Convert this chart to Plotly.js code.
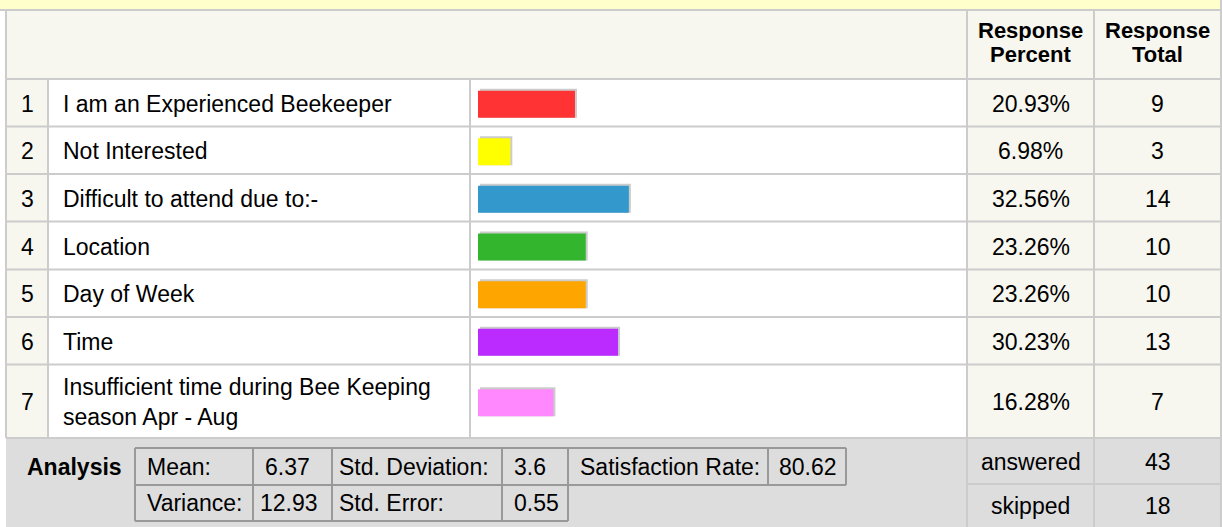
<!DOCTYPE html>
<html>
<head>
<meta charset="utf-8">
<script src="https://cdn.plot.ly/plotly-3.0.1.min.js"></script>
<style>html,body{margin:0;padding:0;background:#fff;}#chart{width:1222px;height:527px;}</style>
</head>
<body>
<div id="chart"></div>
<script>
// ---- data ----
const rowNumbers = ['1', '2', '3', '4', '5', '6', '7'];
const answerLabels = [
  'I am an Experienced Beekeeper',
  'Not Interested',
  'Difficult to attend due to:-',
  'Location',
  'Day of Week',
  'Time',
  'Insufficient time during Bee Keeping<br>season Apr - Aug'
];
const responsePercent = [20.93, 6.98, 32.56, 23.26, 23.26, 30.23, 16.28];
const responseTotal = [9, 3, 14, 10, 10, 13, 7];
const headerPercent = ['Response', 'Percent'];
const headerTotal = ['Response', 'Total'];
const analysisTitle = 'Analysis';
const analysisLabels = ['Mean:', 'Variance:', 'Std. Deviation:', 'Std. Error:', 'Satisfaction Rate:'];
const analysisValues = ['6.37', '12.93', '3.6', '0.55', '80.62'];
const summaryLabels = ['answered', 'skipped'];
const summaryValues = [43, 18];

// ---- style / layout ----
const barColors = ['#ff3333', '#ffff00', '#3399cc', '#33b52e', '#ffa500', '#bb2bff', '#ff88ff'];
const W = 1222, H = 527;
const rowEdges = [79, 126.5, 174, 221.5, 269.5, 317, 364.5, 438];
const rowCenters = rowEdges.slice(0, -1).map((e, i) => (e + rowEdges[i + 1]) / 2);
const barCenters = rowCenters.map(c => c + 1.5);
const FONT = 'Liberation Sans, Arial, Helvetica, sans-serif';
const FS = 23;
const LINE = '#cccccc', CREAM = '#f7f7ef', GREY = '#dddddd', DARK = '#999999';
const colPct = [967, 1094], colTot = [1094, 1221];
const pctX = (colPct[0] + colPct[1]) / 2, totX = (colTot[0] + colTot[1]) / 2;
const barStart = 478, pxPerPct = 4.633;

const shapes = [];
function rect(x0, y0, x1, y1, color) {
  shapes.push({type: 'rect', xref: 'x', yref: 'y', x0, y0, x1, y1, fillcolor: color, line: {width: 0}, layer: 'below'});
}
function line(x0, y0, x1, y1, color, w) {
  shapes.push({type: 'line', xref: 'x', yref: 'y', x0, y0, x1, y1, line: {color: color || LINE, width: w || 2}, layer: 'below'});
}
// backgrounds
rect(0, 0, W, 9, '#ffffcc');
rect(6, 10, 1221, 79, CREAM);
rect(6, 79, 48, 438, CREAM);
rect(967, 79, 1221, 438, CREAM);
rect(6, 438, 1221, 527, GREY);
// table grid
line(0, 10, W, 10);
rowEdges.forEach(y => line(6, y, 1221, y));
line(967, 484, 1221, 484);
line(6, 10, 6, 438);
line(48, 79, 48, 438);
line(470, 79, 470, 438);
line(967, 10, 967, 527);
line(1094, 10, 1094, 527);
line(1221, 0, 1221, 527);
// analysis sub-table
line(135, 448, 846, 448, DARK);
line(135, 485, 846, 485, DARK);
line(135, 521, 568, 521, DARK);
[135, 253, 332, 502, 568].forEach(x => line(x, 448, x, 521, DARK));
[768, 846].forEach(x => line(x, 448, x, 485, DARK));

const ann = [];
function txt(x, y, text, opts) {
  opts = opts || {};
  const a = {xref: 'x', yref: 'y', x, y, text, showarrow: false,
    xanchor: opts.xanchor || 'center', yanchor: 'middle', align: opts.align || 'center',
    font: {family: FONT, size: opts.size || FS, color: '#000', weight: opts.bold ? 700 : 400}};
  if (opts.height) { a.height = opts.height; a.valign = 'middle'; }
  ann.push(a);
}
// header
txt(pctX, 30, headerPercent[0], {bold: true, size: 22, height: 22});
txt(pctX, 54, headerPercent[1], {bold: true, size: 22, height: 22});
txt(totX, 30, headerTotal[0], {bold: true, size: 22, height: 22});
txt(totX, 54, headerTotal[1], {bold: true, size: 22, height: 22});
// rows
rowNumbers.forEach((n, i) => {
  const y = rowCenters[i] + 1;
  txt(27, y, n);
  txt(61, y, answerLabels[i], {xanchor: 'left', align: 'left'});
  txt(pctX, y, responsePercent[i].toFixed(2) + '%');
  txt(totX, y, String(responseTotal[i]));
});
// analysis
txt(25, 467, analysisTitle, {xanchor: 'left', bold: true});
txt(145, 467, analysisLabels[0], {xanchor: 'left'});
txt(263, 467, analysisValues[0], {xanchor: 'left'});
txt(337, 467, analysisLabels[2], {xanchor: 'left'});
txt(512, 467, analysisValues[2], {xanchor: 'left'});
txt(578, 467, analysisLabels[4], {xanchor: 'left'});
txt(777, 467, analysisValues[4], {xanchor: 'left'});
txt(145, 503, analysisLabels[1], {xanchor: 'left'});
txt(258, 503, analysisValues[1], {xanchor: 'left'});
txt(337, 503, analysisLabels[3], {xanchor: 'left'});
txt(512, 503, analysisValues[3], {xanchor: 'left'});
// answered / skipped
txt(pctX, 462, summaryLabels[0]);
txt(totX, 462, String(summaryValues[0]));
txt(pctX, 506, summaryLabels[1]);
txt(totX, 506, String(summaryValues[1]));

const traces = [
  { // shadow (drawn first, on subplot x2y)
    type: 'bar', orientation: 'h', x: responsePercent, y: barCenters.map(c => c - 1),
    width: 29, xaxis: 'x2', yaxis: 'y', marker: {color: '#cccccc', line: {width: 0}},
    hoverinfo: 'skip', showlegend: false
  },
  { // bars (subplot x3y, drawn on top)
    type: 'bar', orientation: 'h', x: responsePercent, y: barCenters,
    width: 27, xaxis: 'x3', yaxis: 'y', marker: {color: barColors, line: {width: 0}},
    hoverinfo: 'skip', showlegend: false
  }
];

const hidden = {visible: false, fixedrange: true, showgrid: false, zeroline: false};
const layout = {
  width: W, height: H,
  margin: {l: 0, r: 0, t: 0, b: 0, pad: 0},
  paper_bgcolor: '#ffffff', plot_bgcolor: 'rgba(0,0,0,0)',
  barmode: 'overlay', showlegend: false,
  xaxis: Object.assign({range: [0, W], domain: [0, 1]}, hidden),
  yaxis: Object.assign({range: [H, 0], domain: [0, 1]}, hidden),
  xaxis2: Object.assign({range: [0, 100], domain: [(barStart + 2) / W, (barStart + 2 + 100 * pxPerPct) / W], anchor: 'y'}, hidden),
  xaxis3: Object.assign({range: [0, 100], domain: [barStart / W, (barStart + 100 * pxPerPct) / W], anchor: 'y'}, hidden),
  shapes: shapes,
  annotations: ann
};
Plotly.newPlot('chart', traces, layout, {staticPlot: true, displayModeBar: false});
</script>
</body>
</html>
